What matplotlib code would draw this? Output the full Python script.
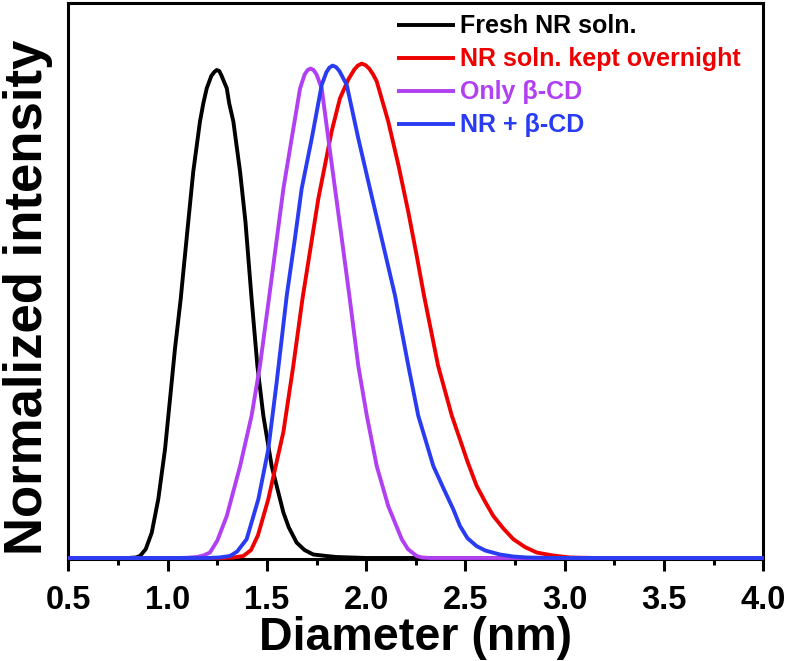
import numpy as np
import matplotlib
matplotlib.use('Agg')
from matplotlib import pyplot as plt
from matplotlib.ticker import MultipleLocator, FormatStrFormatter

plt.rcParams['font.family'] = ['Liberation Sans', 'DejaVu Sans']
plt.rcParams['font.weight'] = 'bold'
plt.rcParams['axes.labelweight'] = 'bold'

# values (diameter in nm, normalized intensity)
fresh_d = [0.50, 0.80, 0.84, 0.861, 0.89, 0.920, 0.953, 0.987, 1.012, 1.037, 1.066, 1.079,
           1.104, 1.129, 1.163, 1.180, 1.197, 1.220, 1.235, 1.247, 1.260, 1.270, 1.298, 1.310,
           1.331, 1.365, 1.392, 1.423, 1.452, 1.482, 1.524, 1.583, 1.610, 1.650, 1.690,
           1.734, 1.800, 1.850, 2.000, 4.00]
fresh_i = [0.0, 0.0, 0.001, 0.004, 0.018, 0.051, 0.119, 0.220, 0.321, 0.423, 0.524, 0.578,
           0.680, 0.781, 0.883, 0.920, 0.950, 0.975, 0.983, 0.987, 0.985, 0.977, 0.950, 0.920,
           0.883, 0.781, 0.680, 0.524, 0.389, 0.288, 0.186, 0.092, 0.062, 0.031, 0.016,
           0.007, 0.004, 0.002, 0.0, 0.0]

overnight_d = [0.50, 1.28, 1.33, 1.381, 1.42, 1.455, 1.507, 1.583, 1.633, 1.679, 1.759, 1.826,
               1.868, 1.910, 1.940, 1.958, 1.977, 1.996, 2.015, 2.035, 2.053, 2.111,
               2.162, 2.212, 2.254, 2.291, 2.362, 2.431, 2.472, 2.510, 2.556, 2.600, 2.640,
               2.690, 2.741, 2.800, 2.859, 2.940, 3.026, 3.15, 4.00]
overnight_i = [0.0, 0.0, 0.001, 0.004, 0.016, 0.046, 0.119, 0.255, 0.389, 0.524, 0.727, 0.863,
               0.930, 0.968, 0.988, 0.996, 1.000, 0.997, 0.990, 0.978, 0.964, 0.883,
               0.795, 0.700, 0.612, 0.531, 0.389, 0.288, 0.240, 0.195, 0.146, 0.113, 0.085,
               0.060, 0.038, 0.022, 0.011, 0.005, 0.001, 0.0, 0.0]

cd_d = [0.50, 1.05, 1.10, 1.147, 1.180, 1.213, 1.250, 1.298, 1.365, 1.423, 1.465, 1.510,
        1.550, 1.583, 1.625, 1.667, 1.690, 1.705, 1.720, 1.735, 1.750, 1.776, 1.809, 1.843,
        1.877, 1.915, 1.960, 2.003, 2.053, 2.111, 2.179, 2.210, 2.254, 2.28, 2.32, 4.00]
cd_i = [0.0, 0.0, 0.0005, 0.002, 0.005, 0.011, 0.035, 0.085, 0.186, 0.288, 0.389, 0.524,
        0.646, 0.747, 0.849, 0.950, 0.978, 0.987, 0.990, 0.987, 0.978, 0.950, 0.849, 0.747,
        0.646, 0.531, 0.389, 0.288, 0.186, 0.105, 0.038, 0.018, 0.004, 0.001, 0.0, 0.0]

nr_cd_d = [0.50, 1.20, 1.26, 1.314, 1.35, 1.398, 1.457, 1.507, 1.549, 1.600, 1.641, 1.675,
           1.726, 1.776, 1.800, 1.815, 1.831, 1.848, 1.865, 1.902, 1.960, 2.019, 2.078, 2.145,
           2.212, 2.262, 2.338, 2.390, 2.439, 2.472, 2.510, 2.556, 2.600, 2.674, 2.740, 2.808,
           2.95, 4.00]
nr_cd_i = [0.0, 0.0, 0.001, 0.004, 0.013, 0.038, 0.119, 0.220, 0.355, 0.531, 0.646, 0.747,
           0.849, 0.957, 0.983, 0.992, 0.996, 0.993, 0.985, 0.957, 0.849, 0.747, 0.646, 0.531,
           0.389, 0.288, 0.186, 0.140, 0.098, 0.065, 0.040, 0.024, 0.015, 0.007, 0.003, 0.001,
           0.0, 0.0]

labels = ['Fresh NR soln.', 'NR soln. kept overnight', 'Only \u03b2-CD', 'NR + \u03b2-CD']
colors = ['#000000', '#ee0000', '#b040f2', '#2a3cf2']

fig = plt.figure(figsize=(7.87, 6.61), dpi=100)
ax = fig.add_axes([0.0868, 0.1536, 0.8832, 0.8414])

series = [(fresh_d, fresh_i), (overnight_d, overnight_i), (cd_d, cd_i), (nr_cd_d, nr_cd_i)]
for (d, v), lab, c in zip(series, labels, colors):
    ax.plot(d, v, color=c, lw=2.8, label=lab, zorder=3, clip_on=False,
            solid_joinstyle='round', solid_capstyle='butt')

ax.set_xlim(0.5, 4.0)
ax.set_ylim(-0.003, 1.122)
ax.xaxis.set_major_locator(MultipleLocator(0.5))
ax.xaxis.set_minor_locator(MultipleLocator(0.25))
ax.xaxis.set_major_formatter(FormatStrFormatter('%.1f'))
ax.set_yticks([])
for s in ax.spines.values():
    s.set_linewidth(2.2)
ax.tick_params(axis='x', which='major', length=8.5, width=2.2, labelsize=23.5, pad=10)
ax.tick_params(axis='x', which='minor', length=4, width=2.2)

ax.set_xlabel('Diameter (nm)', fontsize=33.5, fontweight='bold', labelpad=0)
ax.set_ylabel('Normalized intensity', fontsize=38, fontweight='bold')
ax.yaxis.set_label_coords(-0.022, 0.472)

leg = ax.legend(loc='upper left', bbox_to_anchor=(0.473, 0.98), frameon=False,
                fontsize=18, handlelength=2.3, handletextpad=0.2, labelspacing=0.36,
                borderpad=0, borderaxespad=0)
for t, c in zip(leg.get_texts(), colors):
    t.set_color(c)
    t.set_fontweight('bold')

fig.savefig('out.png', dpi=100)
